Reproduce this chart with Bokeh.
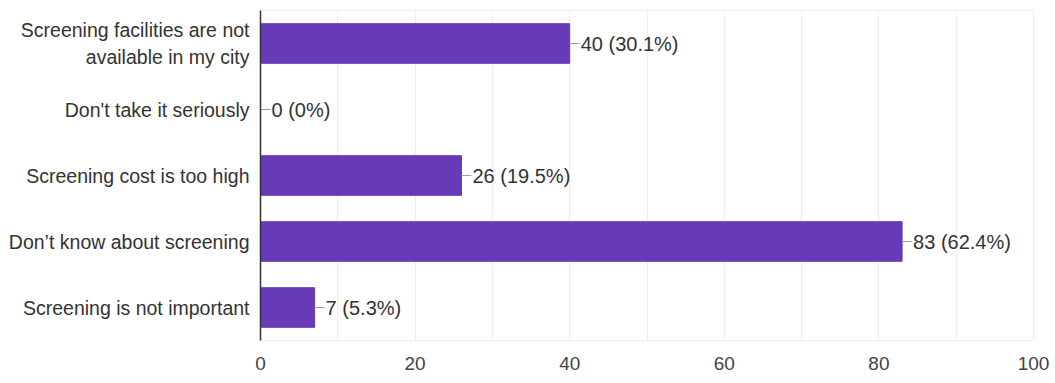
from bokeh.plotting import figure
from bokeh.models import FactorRange, SingleIntervalTicker, ColumnDataSource, Range1d
from bokeh.embed import file_html
from bokeh.resources import INLINE
from bokeh.core.properties import value

categories = [
    "Screening facilities are not\navailable in my city",
    "Don't take it seriously",
    "Screening cost is too high",
    "Don\u2019t know about screening",
    "Screening is not important",
]
counts = [40, 0, 26, 83, 7]
labels = ["40 (30.1%)", "0 (0%)", "26 (19.5%)", "83 (62.4%)", "7 (5.3%)"]

FONT = "Liberation Sans"
PURPLE = "#673ab7"

src = ColumnDataSource(dict(
    cat=categories,
    n=counts,
    n_end=[c + 1.3 for c in counts],
    lab=labels,
))

p = figure(
    width=1050, height=375,
    y_range=FactorRange(factors=list(reversed(categories)), range_padding=0),
    x_range=Range1d(0, 100),
    output_backend="svg", toolbar_location=None,
    min_border_left=260, min_border_right=17, min_border_top=10, min_border_bottom=35,
)
p.outline_line_color = "#eeeeee"
p.background_fill_color = "white"
p.border_fill_color = "white"

p.hbar(y="cat", right="n", left=0, height=0.6, source=src,
       fill_color=PURPLE, line_color=PURPLE)
p.segment(x0="n", x1="n_end", y0="cat", y1="cat", source=src,
          line_color="#9e9e9e", line_width=1)
p.text(x="n", y="cat", text="lab", source=src, x_offset=11,
       text_font=value(FONT), text_font_size="20px", text_color="#333333",
       text_align="left", text_baseline="middle")

p.xaxis.ticker = SingleIntervalTicker(interval=20)
p.xgrid.ticker = SingleIntervalTicker(interval=10)
p.xgrid.grid_line_color = "#eeeeee"
p.ygrid.grid_line_color = None
p.xaxis.axis_line_color = None
p.xaxis.major_tick_line_color = None
p.xaxis.minor_tick_line_color = None
p.xaxis.major_label_standoff = 10
p.xaxis.major_label_text_font = FONT
p.xaxis.major_label_text_font_size = "19px"
p.xaxis.major_label_text_color = "#444444"

p.yaxis.axis_line_color = "#333333"
p.yaxis.axis_line_width = 1.5
p.yaxis.major_tick_line_color = None
p.yaxis.minor_tick_line_color = None
p.yaxis.major_label_standoff = 5
p.yaxis.major_label_text_font = FONT
p.yaxis.major_label_text_font_size = "19.5px"
p.yaxis.major_label_text_color = "#333333"

open("out.html", "w").write(file_html(p, INLINE))
